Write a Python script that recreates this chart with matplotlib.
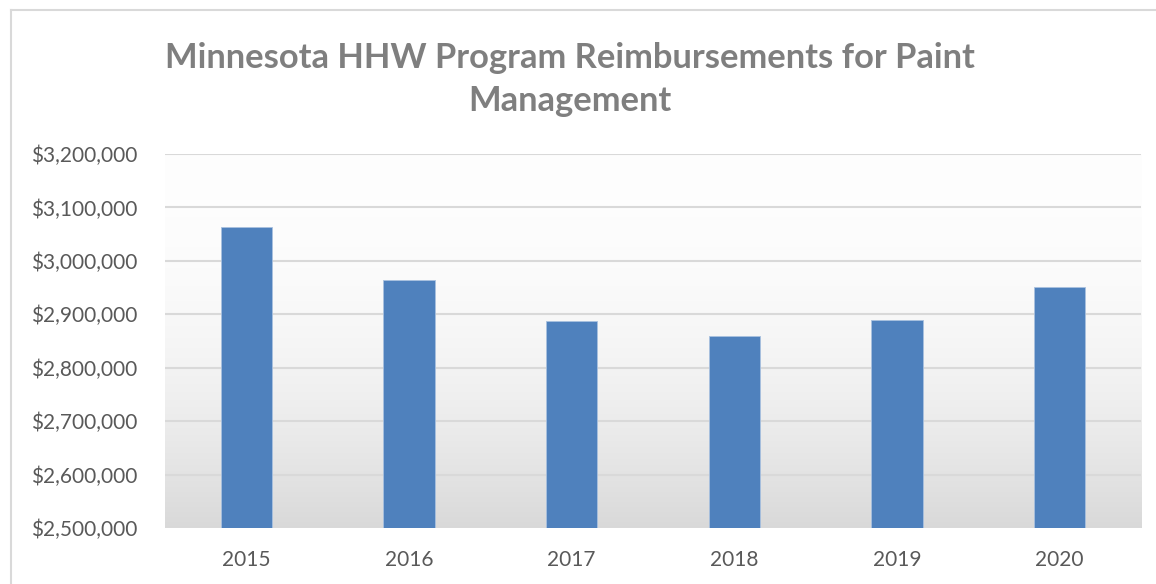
import numpy as np
import matplotlib.pyplot as plt
from matplotlib.ticker import FuncFormatter
from matplotlib.lines import Line2D

years = ['2015', '2016', '2017', '2018', '2019', '2020']
reimbursements = [3063000, 2964000, 2888000, 2859000, 2890000, 2951000]

title = 'Minnesota HHW Program Reimbursements for Paint\nManagement'

plt.rcParams['font.family'] = ['Lato', 'DejaVu Sans']

fig = plt.figure(figsize=(11.56, 5.84), dpi=100)
ax = fig.add_axes([0.1427, 0.0959, 0.8443, 0.6404])

# gradient fill of plot area, white at top to grey at bottom
grad = np.linspace(0, 1, 256).reshape(-1, 1)
shade = 0.995 - 0.145 * grad ** 2.2
img = np.dstack([shade, shade, shade])
ax.imshow(img, extent=[0, 1, 0, 1], transform=ax.transAxes, aspect='auto', zorder=0)

x = np.arange(len(years))
ax.bar(x, reimbursements, width=0.315, color='#4f81bd', edgecolor='#a9c1df', linewidth=0.6, zorder=3)

ax.set_xlim(-0.5, len(years) - 0.5)
ax.set_ylim(2500000, 3200000)
ax.set_yticks(np.arange(2500000, 3200001, 100000))
ax.yaxis.set_major_formatter(FuncFormatter(lambda v, p: '${:,.0f}'.format(v)))
ax.set_xticks(x)
ax.set_xticklabels(years)

ax.grid(axis='y', color='#d9d9d9', linewidth=1.5, zorder=1)
ax.set_axisbelow(True)
for s in ax.spines.values():
    s.set_visible(False)
ax.tick_params(axis='both', length=0, labelsize=15, colors='#595959')
ax.tick_params(axis='y', pad=20)
ax.tick_params(axis='x', pad=16)

fig.text(0.493, 0.864, title, ha='center', va='center', fontsize=24.8, fontweight='bold',
         color='#7f7f7f', linespacing=1.4)

# chart frame (left and top edges visible)
fig.add_artist(Line2D([11 / 1156, 11 / 1156], [0, 1 - 10 / 584], color='#d9d9d9', lw=1.5))
fig.add_artist(Line2D([11 / 1156, 1], [1 - 10 / 584, 1 - 10 / 584], color='#d9d9d9', lw=1.5))

fig.savefig('out.png', dpi=100)
